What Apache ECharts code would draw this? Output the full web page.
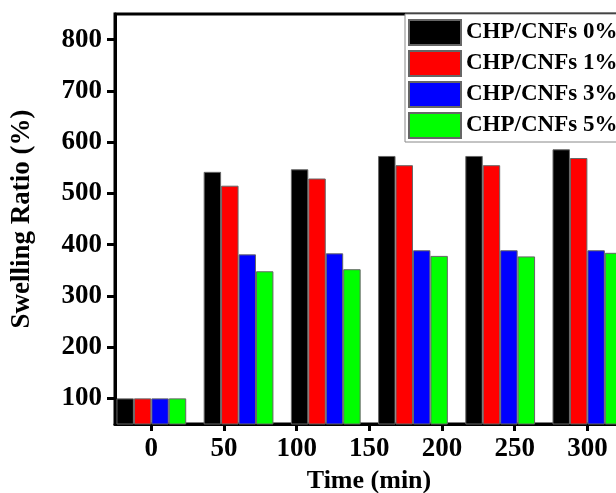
<!DOCTYPE html>
<html>
<head>
<meta charset="utf-8">
<script src="https://cdn.jsdelivr.net/npm/echarts@6/dist/echarts.min.js"></script>
<style>
html,body{margin:0;padding:0;background:#fff;}
#chart{width:616px;height:493px;}
</style>
</head>
<body>
<div id="chart"></div>
<script>
// Data
var times = [0, 60, 120, 180, 240, 300];
var seriesNames = ['CHP/CNFs 0%', 'CHP/CNFs 1%', 'CHP/CNFs 3%', 'CHP/CNFs 5%'];
var cnf0 = [100, 542, 547, 573, 573, 586];
var cnf1 = [100, 515, 529, 555, 555, 569];
var cnf3 = [100, 381, 383, 389, 389, 389];
var cnf5 = [100, 348, 352, 378, 377, 384];
var xTicks = [0, 50, 100, 150, 200, 250, 300];
var yTicks = [100, 200, 300, 400, 500, 600, 700, 800];
var colors = ['#000000', '#ff0000', '#0000ff', '#00ff00'];

var allValues = [cnf0, cnf1, cnf3, cnf5];
var font = 'Liberation Serif';

var series = allValues.map(function (vals, i) {
  return {
    name: seriesNames[i],
    type: 'bar',
    data: times.map(function (t, j) { return [t, vals[j]]; }),
    barGap: '0%',
    barCategoryGap: '20%',
    itemStyle: { color: colors[i], borderColor: '#666', borderWidth: 1 },
    emphasis: { disabled: true },
    animation: false
  };
});

var chart = echarts.init(document.getElementById('chart'), null, { renderer: 'canvas' });
chart.setOption({
  animation: false,
  backgroundColor: '#fff',
  grid: {
    show: true,
    left: 115,
    top: 14,
    bottom: 69,
    width: 516,
    outerBoundsMode: 'none',
    containLabel: false,
    borderColor: '#000',
    borderWidth: 3,
    backgroundColor: 'transparent'
  },
  legend: {
    orient: 'vertical',
    left: 405,
    top: 14,
    itemWidth: 52,
    itemHeight: 25,
    itemGap: 4,
    padding: [5, 10, 3, 3],
    backgroundColor: '#fff',
    borderColor: '#888',
    borderWidth: 1,
    borderRadius: 0,
    icon: 'rect',
    textStyle: { fontFamily: font, fontWeight: 'bold', fontSize: 23, color: '#000' },
    data: seriesNames
  },
  xAxis: {
    type: 'value',
    min: -25,
    max: 330,
    interval: 25,
    name: 'Time (min)',
    nameLocation: 'middle',
    nameGap: 43,
    nameTextStyle: { fontFamily: font, fontWeight: 'bold', fontSize: 26, color: '#000', padding: [0, 8, 0, 0] },
    axisLine: { show: true, onZero: false, lineStyle: { color: '#000', width: 3 } },
    axisTick: { show: true, inside: false, length: 7, lineStyle: { color: '#000', width: 3 }, customValues: xTicks },
    axisLabel: { fontFamily: font, fontWeight: 'bold', fontSize: 27, color: '#000', margin: 12, customValues: xTicks },
    splitLine: { show: false }
  },
  yAxis: {
    type: 'value',
    min: 50,
    max: 850,
    interval: 50,
    name: 'Swelling Ratio (%)',
    nameLocation: 'middle',
    nameGap: 79,
    nameTextStyle: { fontFamily: font, fontWeight: 'bold', fontSize: 27, color: '#000' },
    axisLine: { show: true, onZero: false, lineStyle: { color: '#000', width: 3 } },
    axisTick: { show: true, inside: false, length: 8, lineStyle: { color: '#000', width: 3 }, customValues: yTicks },
    axisLabel: { fontFamily: font, fontWeight: 'bold', fontSize: 27, color: '#000', margin: 13, customValues: yTicks },
    splitLine: { show: false }
  },
  series: series
});
</script>
</body>
</html>
